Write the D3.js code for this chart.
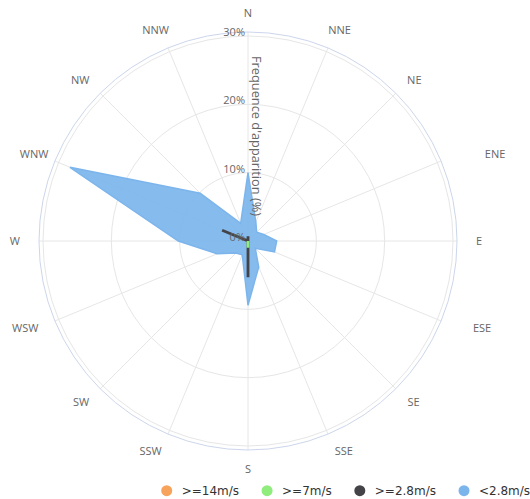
<!DOCTYPE html>
<html>
<head>
<meta charset="utf-8">
<script src="https://cdn.jsdelivr.net/npm/d3@7"></script>
<style>
  html, body { margin: 0; padding: 0; background: #fff; }
  svg { display: block; }
</style>
</head>
<body>
<svg id="chart" width="530" height="499"></svg>
<script>
// ---- data ----
const directions = ['N','NNE','NE','ENE','E','ESE','SE','SSE','S','SSW','SW','WSW','W','WNW','NW','NNW'];
const yTicks = [0, 10, 20, 30];
const seriesNames = ['>=14m/s', '>=7m/s', '>=2.8m/s', '<2.8m/s'];
const seriesColors = ['#f7a35c', '#90ed7d', '#434348', '#7cb5ec'];
const over14 = [0,0,0,0,0,0,0,0,0,0,0,0,0,0,0,0];
const over7  = [0,0,0,0,0,0,0,0,1.0,0,0,0,0,0,0,0];
const over28 = [0.7,0,0,0,0,0,0,0,5.3,0,0,0,0,4.1,0,0];
const under28 = [10,3,1.8,2.5,4.2,4.2,1.5,4.1,9.4,2.2,2.5,4.9,10.2,28.2,9.9,2.8];
const seriesValues = [over14, over7, over28, under28];
const yTitle = "Frequence d'apparition (%)";

// ---- layout ----
const svg = d3.select('#chart');
const cx = 248, cy = 241;
const outerR = 209;
const rScale = d3.scaleLinear().domain([0, 30]).range([0, 205]);
const aScale = d3.scalePoint().domain(directions).range([0, 2 * Math.PI * 15 / 16]);

const g = svg.append('g').attr('transform', `translate(${cx},${cy})`);

// rings
g.selectAll('circle.ring').data(yTicks.filter(t => t > 0)).enter().append('circle')
  .attr('class', 'ring').attr('r', d => rScale(d))
  .attr('fill', 'none').attr('stroke', '#e6e6e6').attr('stroke-width', 1);

// spokes
g.selectAll('line.spoke').data(directions).enter().append('line')
  .attr('x1', 0).attr('y1', 0)
  .attr('x2', d => outerR * Math.sin(aScale(d)))
  .attr('y2', d => -outerR * Math.cos(aScale(d)))
  .attr('stroke', '#e6e6e6').attr('stroke-width', 1);

// outer circle
g.append('circle').attr('r', outerR).attr('fill', 'none')
  .attr('stroke', '#ccd6eb').attr('stroke-width', 1);

// series (drawn last legend item first)
const line = d3.lineRadial()
  .angle((d, i) => aScale(directions[i]))
  .radius(d => rScale(d))
  .curve(d3.curveLinearClosed);

const order = [3, 2, 1, 0];
order.forEach(si => {
  g.append('path')
    .attr('d', line(seriesValues[si]))
    .attr('fill', seriesColors[si])
    .attr('fill-opacity', si === 3 ? 0.92 : 1)
    .attr('stroke', seriesColors[si])
    .attr('stroke-width', si === 3 ? 1.5 : 2.8)
    .attr('stroke-linejoin', 'miter');
});

// direction labels
const labR = 228;
const labelNudge = { ENE: 27, ESE: 15, WNW: 10, SSW: -6, SSE: 5 };
g.selectAll('text.dir').data(directions).enter().append('text')
  .attr('class', 'dir')
  .attr('font-family', 'Open Sans, sans-serif')
  .attr('font-size', 11)
  .attr('fill', '#666')
  .attr('text-anchor', 'middle')
  .attr('dy', '0.35em')
  .text(d => d)
  .each(function (d) {
    const a = aScale(d);
    const w = this.getComputedTextLength();
    const x = labR * Math.sin(a) + (w / 2) * Math.sin(a) + (labelNudge[d] || 0);
    const y = -labR * Math.cos(a);
    d3.select(this).attr('x', x).attr('y', y);
  });

// y labels
g.selectAll('text.ylab').data(yTicks).enter().append('text')
  .attr('class', 'ylab')
  .attr('font-family', 'Open Sans, sans-serif')
  .attr('font-size', 11)
  .attr('fill', '#666')
  .attr('text-anchor', 'end')
  .attr('x', -3)
  .attr('y', d => -rScale(d) - 4)
  .attr('dy', '0.35em')
  .text(d => d + '%');

// y title
svg.append('text')
  .attr('transform', `translate(${cx + 8},136) rotate(90)`)
  .attr('font-family', 'Open Sans, sans-serif')
  .attr('font-size', 12.8)
  .attr('fill', '#666')
  .attr('text-anchor', 'middle')
  .attr('dy', '0.35em')
  .text(yTitle);

// legend
const legend = svg.append('g');
let lx = 166.7;
const ly = 490.7;
seriesNames.forEach((name, i) => {
  legend.append('circle').attr('cx', lx).attr('cy', ly).attr('r', 5.5)
    .attr('fill', seriesColors[i]);
  const t = legend.append('text')
    .attr('x', lx + 15).attr('y', ly)
    .attr('dy', '0.35em')
    .attr('font-family', 'DejaVu Sans, sans-serif')
    .attr('font-size', 12)
    .attr('fill', '#333')
    .text(name);
  const w = t.node().getComputedTextLength();
  lx = lx + 15 + w + 28;
});
</script>
</body>
</html>
